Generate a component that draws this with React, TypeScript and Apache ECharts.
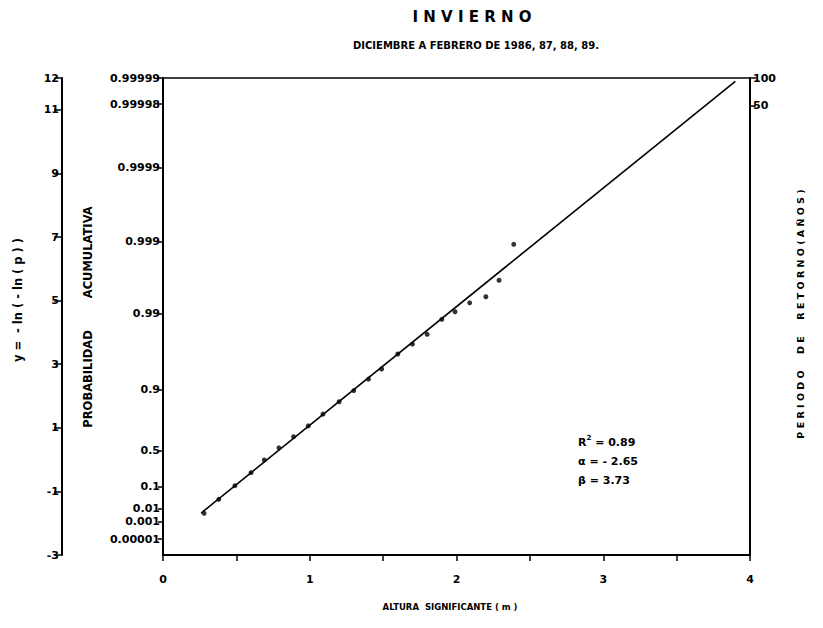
import React, { useEffect, useRef } from "react";
import * as echarts from "echarts";

// Significant wave height (m) of each ranked observation
const heights = [0.28, 0.38, 0.49, 0.6, 0.69, 0.79, 0.89, 0.99, 1.09, 1.2, 1.3, 1.4, 1.49, 1.6, 1.7, 1.8, 1.9, 1.99, 2.09, 2.2, 2.29, 2.39];
// Reduced Gumbel variate y = -ln(-ln(p)) for each observation
const reducedVariate = [-1.69, -1.25, -0.82, -0.41, -0.01, 0.37, 0.72, 1.06, 1.43, 1.82, 2.17, 2.53, 2.85, 3.32, 3.63, 3.94, 4.41, 4.65, 4.93, 5.12, 5.64, 6.77];

// Fitted line y = alpha + beta * x
const rSquared = 0.89;
const alpha = -2.65;
const beta = 3.73;
const fitRange = [0.26, 3.9];

// Left outer axis (reduced variate)
const variateTicks = [-3, -1, 1, 3, 5, 7, 9, 11, 12];
// Cumulative probability scale (position on the variate axis, label)
const probPositions = [12, 11.18, 9.19, 6.85, 4.58, 2.21, 0.28, -0.85, -1.53, -1.95, -2.5];
const probLabels = ["0.99999", "0.99998", "0.9999", "0.999", "0.99", "0.9", "0.5", "0.1", "0.01", "0.001", "0.00001"];
// Return period scale (years)
const periodPositions = [12, 11.13];
const periodLabels = ["100", "50"];

const FONT = "DejaVu Sans";

const lookup = (positions: number[], labels: string[]) => (v: number) => {
  const i = positions.findIndex((p) => Math.abs(p - v) < 1e-6);
  return i >= 0 ? labels[i] : "";
};

export default function App() {
  const ref = useRef<HTMLDivElement>(null);

  useEffect(() => {
    if (!ref.current) return;
    const chart = echarts.init(ref.current, null, { renderer: "svg" });

    const points = heights.map((h, i) => [h, reducedVariate[i]]);
    const fit = fitRange.map((x) => [x, alpha + beta * x]);

    const axisLine = { show: true, onZero: false, lineStyle: { color: "#000", width: 2 } };
    const labelStyle = { color: "#000", fontFamily: FONT, fontWeight: "bold" as const, fontSize: 11 };

    chart.setOption({
      animation: false,
      backgroundColor: "#fff",
      grid: {
        left: 163,
        right: 73,
        top: 78,
        bottom: 73,
        show: true,
        borderColor: "#000",
        borderWidth: 1.5,
      },
      xAxis: {
        type: "value",
        min: 0,
        max: 4,
        interval: 0.5,
        axisLine,
        axisTick: { show: true, length: 6, lineStyle: { color: "#000", width: 1.5 } },
        axisLabel: {
          ...labelStyle,
          margin: 19,
          formatter: (v: number) => (Number.isInteger(v) ? String(v) : ""),
        },
        splitLine: { show: false },
      },
      yAxis: [
        {
          type: "value",
          position: "left",
          min: -3,
          max: 12,
          axisLine,
          axisTick: { show: true, length: 5, customValues: probPositions, lineStyle: { color: "#000", width: 1.5 } },
          axisLabel: { ...labelStyle, margin: 3, customValues: probPositions, formatter: lookup(probPositions, probLabels) },
          splitLine: { show: false },
        },
        {
          type: "value",
          position: "left",
          offset: 101,
          min: -3,
          max: 12,
          axisLine,
          axisTick: { show: true, length: 8, customValues: variateTicks, lineStyle: { color: "#000", width: 1.5 } },
          axisLabel: { ...labelStyle, margin: 3, customValues: variateTicks },
          splitLine: { show: false },
        },
        {
          type: "value",
          position: "right",
          min: -3,
          max: 12,
          axisLine,
          axisTick: { show: true, length: 6, customValues: periodPositions, lineStyle: { color: "#000", width: 1.5 } },
          axisLabel: { ...labelStyle, margin: 3, customValues: periodPositions, formatter: lookup(periodPositions, periodLabels) },
          splitLine: { show: false },
        },
      ],
      series: [
        {
          type: "line",
          data: fit,
          symbol: "none",
          lineStyle: { color: "#000", width: 1.6 },
          xAxisIndex: 0,
          yAxisIndex: 0,
          z: 2,
        },
        {
          type: "scatter",
          data: points,
          symbol: "circle",
          symbolSize: 5,
          itemStyle: { color: "#000" },
          xAxisIndex: 0,
          yAxisIndex: 0,
          z: 3,
        },
      ],
      graphic: [
        {
          type: "text",
          x: 472,
          y: 17,
          style: { text: "I N V I E R N O", font: `bold 15px "${FONT}"`, fill: "#000", align: "center", verticalAlign: "middle" },
        },
        {
          type: "text",
          x: 476,
          y: 45,
          style: { text: "DICIEMBRE A FEBRERO DE 1986, 87, 88, 89.", font: `bold 10px "${FONT}"`, fill: "#000", align: "center", verticalAlign: "middle" },
        },
        {
          type: "text",
          x: 450,
          y: 607,
          style: { text: "ALTURA  SIGNIFICANTE ( m )", font: `bold 8.5px "${FONT}"`, fill: "#000", align: "center", verticalAlign: "middle" },
        },
        {
          type: "text",
          x: 18,
          y: 300,
          rotation: Math.PI / 2,
          style: { text: "y =  - ln ( - ln ( p ) )", font: `bold 11.5px "${FONT}"`, fill: "#000", align: "center", verticalAlign: "middle" },
        },
        {
          type: "text",
          x: 88,
          y: 317,
          rotation: Math.PI / 2,
          style: { text: "PROBABILIDAD        ACUMULATIVA", font: `bold 11.5px "${FONT}"`, fill: "#000", align: "center", verticalAlign: "middle" },
        },
        {
          type: "text",
          x: 800,
          y: 314,
          rotation: Math.PI / 2,
          style: { text: "P E R I O D O     D E     R E T O R N O ( A Ñ O S )", font: `bold 9.5px "${FONT}"`, fill: "#000", align: "center", verticalAlign: "middle" },
        },
        {
          type: "text",
          x: 578,
          y: 442,
          style: {
            text: `{b|R}{s|2}{b| = ${rSquared.toFixed(2)}}`,
            verticalAlign: "middle",
            rich: {
              b: { font: `bold 11px "${FONT}"`, color: "#000" },
              s: { font: `bold 7px "${FONT}"`, color: "#000", verticalAlign: "top", padding: [0, 0, 8, 0] },
            },
          },
        },
        {
          type: "text",
          x: 578,
          y: 461,
          style: { text: `α = - ${Math.abs(alpha).toFixed(2)}`, font: `bold 11px "${FONT}"`, fill: "#000", verticalAlign: "middle" },
        },
        {
          type: "text",
          x: 578,
          y: 480,
          style: { text: `β = ${beta.toFixed(2)}`, font: `bold 11px "${FONT}"`, fill: "#000", verticalAlign: "middle" },
        },
      ],
    });

    return () => chart.dispose();
  }, []);

  return (
    <div
      ref={ref}
      style={{ position: "absolute", left: 0, top: 0, width: 823, height: 628, background: "#fff" }}
    />
  );
}
